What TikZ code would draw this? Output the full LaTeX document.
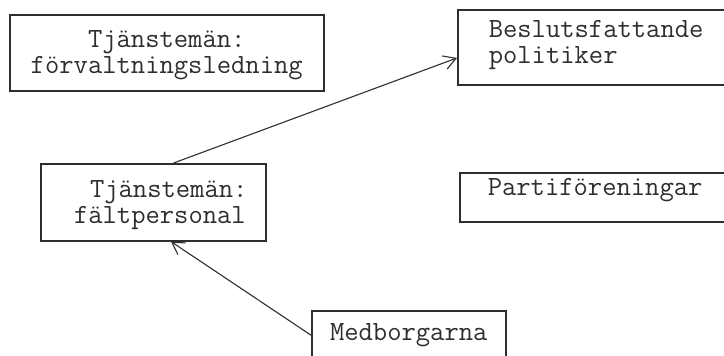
\documentclass[tikz,border=0pt]{standalone}
\usepackage{fontspec}
\usetikzlibrary{arrows.meta,calc}
\definecolor{ink}{gray}{0.18}
\tikzset{
  box/.style={draw=ink, line width=0.75pt, rectangle, anchor=north west,
    inner ysep=0pt, text=ink,
    font={\ttfamily\fontsize{13.9pt}{12.8pt}\selectfont}},
  link/.style={draw=ink, line width=0.55pt,
    -{Straight Barb[length=6pt,width=7pt,line width=0.55pt]}}
}
\begin{document}
\begin{tikzpicture}[x=0.5pt,y=-0.5pt]
\useasboundingbox (0,0) rectangle (724,355);
\clip (0,0) rectangle (724,355);
\node[box, minimum width=157pt, inner xsep=0pt, align=center,
  text height=29.3pt, text depth=8.7pt] (b1) at (9,14)
  {Tjänstemän:\\förvaltningsledning};
\node[box, inner xsep=15.5pt, text width=120.5pt, align=left,
  text height=14pt, text depth=23.5pt] (b2) at (457,9)
  {Beslutsfattande\\politiker};
\node[box, minimum width=112.5pt, inner xsep=0pt, align=left,
  text height=29.8pt, text depth=8.7pt] (b3) at (40,163)
  {\hspace*{15.5pt}Tjänstemän:\\\hspace*{7.5pt}fältpersonal};
\node[box, inner xsep=14pt, text width=122.5pt, align=left,
  text height=11.5pt, text depth=13pt] (b4) at (459,172)
  {Partiföreningar};
\node[box, minimum width=97pt, inner xsep=0pt, align=center,
  text height=15pt, text depth=23pt] (b5) at (311,310)
  {Medborgarna};
\draw[link] ($(b3.north west)!0.59!(b3.north east)$) -- ($(b2.north west)!0.64!(b2.south west)$);
\draw[link] ($(b5.north west)!0.325!(b5.south west)$) -- ($(b3.south west)!0.578!(b3.south east)$);
\end{tikzpicture}
\end{document}
